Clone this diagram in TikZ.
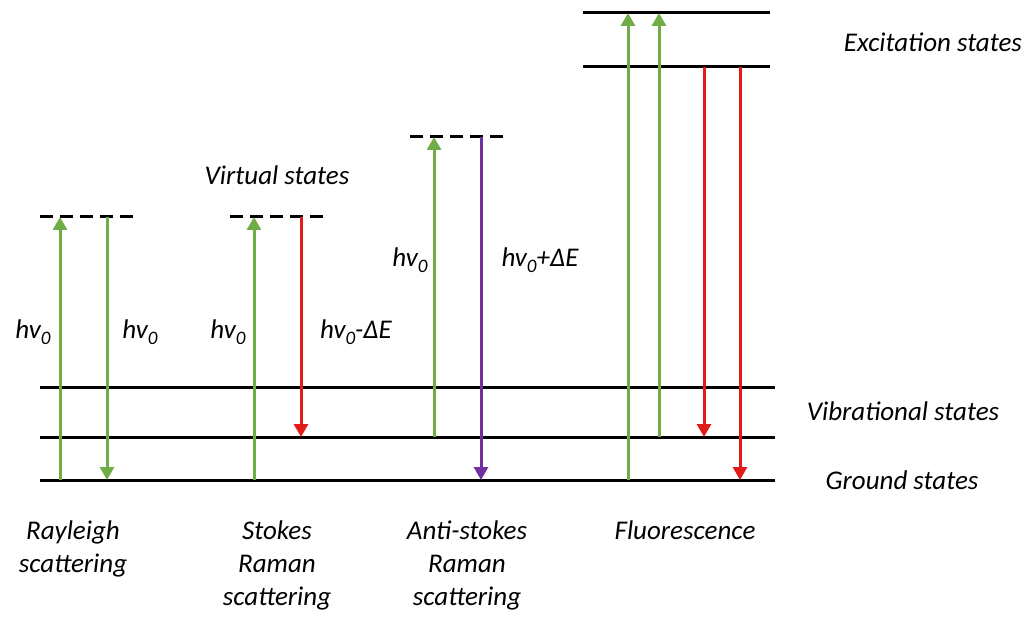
\documentclass[tikz,border=0pt]{standalone}
\usepackage{fontspec}
\setmainfont{Carlito}
\usetikzlibrary{arrows.meta}
\definecolor{upgreen}{HTML}{70AD47}
\definecolor{downred}{HTML}{E31B1B}
\definecolor{antipurple}{HTML}{7030A0}
\tikzset{
  level/.style={line width=3pt, black},
  virtual/.style={line width=3pt, black, dash pattern=on 13pt off 7pt},
  trans/.style={line width=3pt, -{Triangle[width=14pt,length=13pt]}},
  lbl/.style={font=\fontsize{27}{32}\selectfont\itshape, inner sep=0pt},
  proclabel/.style={font=\fontsize{27}{33}\selectfont\itshape, align=center, inner sep=0pt, anchor=north},
}
\newcommand{\hvz}{hv\raisebox{-0.22em}{\fontsize{19}{19}\selectfont 0}}
\begin{document}
\begin{tikzpicture}[x=1pt, y=-1pt]
\useasboundingbox (0,0) rectangle (1029,623);

% energy levels
\coordinate (gL) at (40,480);  \coordinate (gR) at (775,480);
\coordinate (v1L) at (40,437); \coordinate (v1R) at (775,437);
\coordinate (v2L) at (40,387); \coordinate (v2R) at (775,387);
\coordinate (e1L) at (583,13); \coordinate (e1R) at (770,13);
\coordinate (e2L) at (583,67); \coordinate (e2R) at (770,67);
\draw[level] (gL) -- (gR);
\draw[level] (v1L) -- (v1R);
\draw[level] (v2L) -- (v2R);
\draw[level] (e1L) -- (e1R);
\draw[level] (e2L) -- (e2R);

% virtual states
\coordinate (rvL) at (40,217);  \coordinate (rvR) at (135,217);
\coordinate (svL) at (230,217); \coordinate (svR) at (325,217);
\coordinate (avL) at (410,137); \coordinate (avR) at (505,137);
\draw[virtual] (rvL) -- (rvR);
\draw[virtual] (svL) -- (svR);
\draw[virtual] (avL) -- (avR);

% Rayleigh
\coordinate (ra0) at (60,480);  \coordinate (ra1) at (60,217);
\coordinate (rb0) at (107,217); \coordinate (rb1) at (107,480);
\draw[trans, upgreen] (ra0) -- (ra1);
\draw[trans, upgreen] (rb0) -- (rb1);

% Stokes Raman
\coordinate (sa0) at (254,480); \coordinate (sa1) at (254,217);
\coordinate (sb0) at (301,217); \coordinate (sb1) at (301,437);
\draw[trans, upgreen] (sa0) -- (sa1);
\draw[trans, downred] (sb0) -- (sb1);

% Anti-Stokes Raman
\coordinate (aa0) at (434,437); \coordinate (aa1) at (434,137);
\coordinate (ab0) at (481,137); \coordinate (ab1) at (481,480);
\draw[trans, upgreen] (aa0) -- (aa1);
\draw[trans, antipurple] (ab0) -- (ab1);

% Fluorescence
\coordinate (fa0) at (628,480); \coordinate (fa1) at (628,13);
\coordinate (fb0) at (659,437); \coordinate (fb1) at (659,13);
\coordinate (fc0) at (704,67);  \coordinate (fc1) at (704,437);
\coordinate (fd0) at (740,67);  \coordinate (fd1) at (740,480);
\draw[trans, upgreen] (fa0) -- (fa1);
\draw[trans, upgreen] (fb0) -- (fb1);
\draw[trans, downred] (fc0) -- (fc1);
\draw[trans, downred] (fd0) -- (fd1);

% transition energies
\node[lbl] (l1) at (33,332) {\hvz};
\node[lbl] (l2) at (140,332) {\hvz};
\node[lbl] (l3) at (228,332) {\hvz};
\node[lbl] (l4) at (356,332) {\hvz-ΔE};
\node[lbl] (l5) at (410,260) {\hvz};
\node[lbl] (l6) at (540,260) {\hvz+ΔE};

% state names
\node[lbl] (vs) at (277,175) {Virtual states};
\node[lbl] (es) at (933,42) {Excitation states};
\node[lbl] (vb) at (903,411) {Vibrational states};
\node[lbl] (gs) at (902,480) {Ground states};

% process names
\node[proclabel] (c1) at (73,521) {Rayleigh\\scattering};
\node[proclabel] (c2) at (277,521) {Stokes\\Raman\\scattering};
\node[proclabel] (c3) at (467,521) {Anti-stokes\\Raman\\scattering};
\node[proclabel] (c4) at (685,521) {Fluorescence};
\end{tikzpicture}
\end{document}
